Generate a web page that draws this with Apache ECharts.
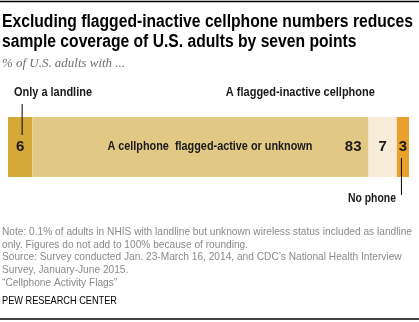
<!DOCTYPE html>
<html>
<head>
<meta charset="utf-8">
<script src="https://cdn.jsdelivr.net/npm/echarts@6/dist/echarts.min.js"></script>
<style>
  html, body { margin: 0; padding: 0; background: #fff; }
  #chart { width: 419px; height: 322px; }
</style>
</head>
<body>
<div id="chart"></div>
<script>
// Phone status shares of U.S. adults, one stacked bar
const segments = ['Only a landline', 'A cellphone  flagged-active or unknown', 'A flagged-inactive cellphone', 'No phone'];
const values = [6, 83, 7, 3];
const colors = ['#d5a937', '#e1c985', '#f6ecd8', '#eaa02d'];

const titleLines = ['Excluding flagged-inactive cellphone numbers reduces', 'sample coverage of U.S. adults by seven points'];
const subtitleText = '% of U.S. adults with ...';
const noteLines = [
  'Note: 0.1% of adults in NHIS with landline but unknown wireless status included as landline',
  'only. Figures do not add to 100% because of rounding.',
  'Source: Survey conducted Jan. 23-March 16, 2014, and CDC\u2019s National Health Interview',
  'Survey, January-June 2015.',
  '\u201cCellphone Activity Flags\u201d'
];
const creditText = 'PEW RESEARCH CENTER';

const SANS = '"Liberation Sans", Arial, sans-serif';
const SERIF = '"Liberation Serif", "DejaVu Serif", serif';
const total = values.reduce((a, b) => a + b, 0);

// Horizontal squeeze so the wide sans face sets like a condensed one
const measureCtx = document.createElement('canvas').getContext('2d');
function squeeze(text, weight, size, family, width) {
  measureCtx.font = weight + ' ' + size + 'px ' + family;
  return width / measureCtx.measureText(text).width;
}

function textEl(text, x, y, opts) {
  const s = opts.scale || 1;
  return {
    type: 'text', x: x, y: y, z: 100, scaleX: s, scaleY: 1, silent: true,
    style: {
      text: text,
      fontFamily: opts.family || SANS,
      fontWeight: opts.weight || 'normal',
      fontStyle: opts.style || 'normal',
      fontSize: opts.size,
      fill: opts.color || '#000',
      textAlign: opts.align || 'left',
      textVerticalAlign: 'middle'
    }
  };
}

function lineEl(x1, y1, x2, y2, w) {
  return { type: 'line', z: 100, silent: true, shape: { x1: x1, y1: y1, x2: x2, y2: y2 }, style: { stroke: '#000', lineWidth: w } };
}

const chart = echarts.init(document.getElementById('chart'), null, { renderer: 'canvas' });

const series = values.map((v, i) => ({
  type: 'bar',
  stack: 'all',
  name: segments[i],
  data: [v],
  barWidth: 60,
  itemStyle: { color: colors[i] },
  silent: true,
  label: {
    show: true,
    position: i === 1 ? 'insideRight' : 'inside',
    distance: 7,
    color: '#1a1a1a',
    fontFamily: SANS,
    fontWeight: 'bold',
    fontSize: 15,
    formatter: String(v)
  }
}));

chart.setOption({
  animation: false,
  backgroundColor: '#fff',
  grid: { left: 8, right: 10, top: 117, height: 60 },
  xAxis: { type: 'value', min: 0, max: total, show: false },
  yAxis: { type: 'category', data: [''], show: false },
  series: series
});

// Annotations placed from the bar's own scale
function px(x) { return chart.convertToPixel({ gridIndex: 0 }, [x, 0])[0]; }
const xLand = px(values[0] / 2) + 2;
const xActiveMid = px(values[0] + values[1] / 2);
const xInactiveEnd = px(values[0] + values[1] + values[2]);
const xNone = px(values[0] + values[1] + values[2] + values[3] / 2) - 1.5;

const titleScale = squeeze(titleLines[0], 'bold', 17.5, SANS, 411);
const noteScale = squeeze(noteLines[0], 'normal', 10.5, SANS, 410);
const lblSize = 12;
const lbl = (t, w) => ({ size: lblSize, weight: 'bold', color: '#1a1a1a', scale: squeeze(t, 'bold', lblSize, SANS, w) });

const graphics = [
  lineEl(0, 1.5, 419, 1.5, 1.5),
  lineEl(0, 319, 419, 319, 1.5),
  textEl(titleLines[0], 2, 22.5, { size: 17.5, weight: 'bold', scale: titleScale }),
  textEl(titleLines[1], 2, 42.5, { size: 17.5, weight: 'bold', scale: titleScale }),
  textEl(subtitleText, 2, 64, { size: 13, family: SERIF, style: 'italic', color: '#6f6f6f',
    scale: squeeze(subtitleText, 'italic normal', 13, SERIF, 123) }),
  lineEl(xLand, 104, xLand, 135, 1),
  lineEl(xNone, 158, xNone, 195, 1),
  textEl(segments[0], 14, 93, lbl(segments[0], 78)),
  textEl(segments[2], xInactiveEnd - 22, 93, Object.assign(lbl(segments[2], 149), { align: 'right' })),
  textEl(segments[3], xNone - 5.5, 199, Object.assign(lbl(segments[3], 48), { align: 'right' })),
  textEl(segments[1], xActiveMid + 9.5 - 102.5, 147, lbl(segments[1], 205)),
  textEl(creditText, 2, 300.7, { size: 10.5, color: '#000', scale: squeeze(creditText, 'normal', 10.5, SANS, 115) })
];
noteLines.forEach((t, i) => {
  graphics.push(textEl(t, 2, 232 + i * 12.7, { size: 10.5, color: '#8a8a8a', scale: noteScale }));
});

chart.setOption({ graphic: graphics });
</script>
</body>
</html>
